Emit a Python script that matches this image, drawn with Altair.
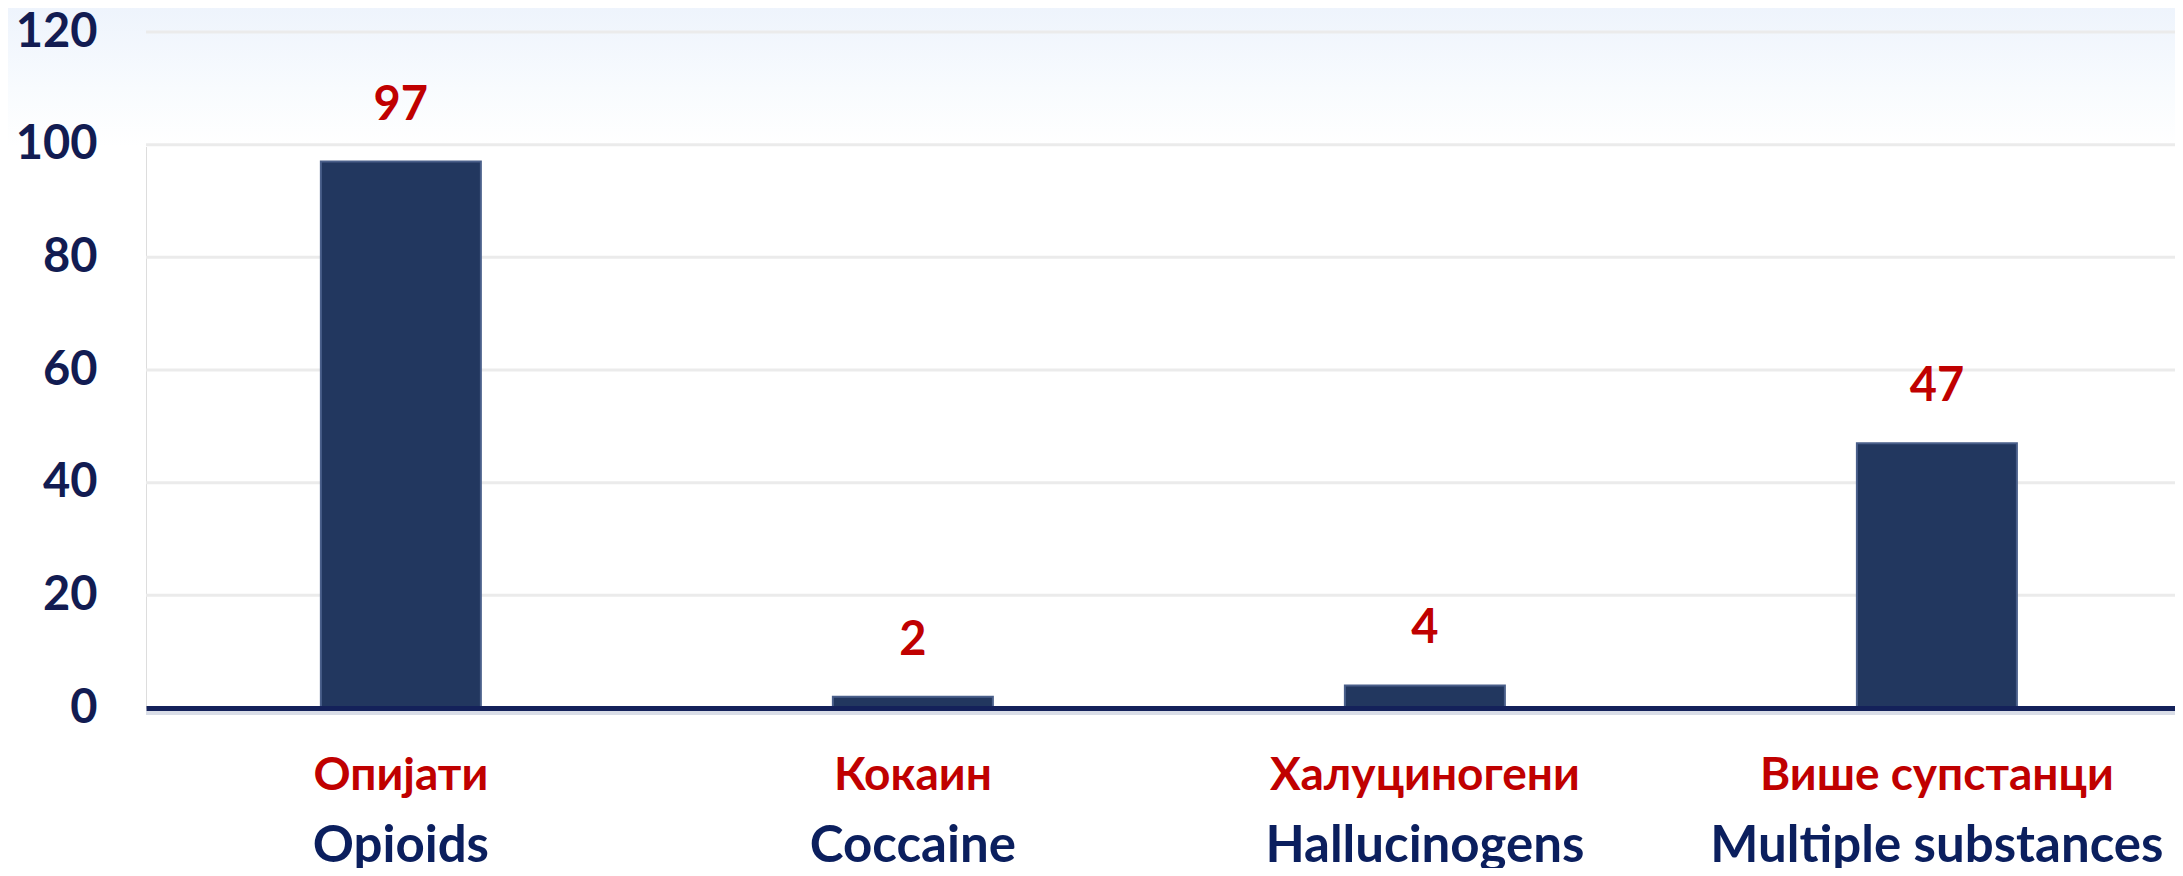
import altair as alt
import pandas as pd

# ---- data ----
cats_en = ["Opioids", "Coccaine", "Hallucinogens", "Multiple substances"]
cats_cyr = ["Опијати", "Кокаин", "Халуциногени", "Више супстанци"]
values = [97, 2, 4, 47]
y_ticks = [0, 20, 40, 60, 80, 100, 120]

df = pd.DataFrame({"cat": cats_en, "cyr": cats_cyr, "value": values})
grid_df = pd.DataFrame({"v": y_ticks[1:]})

W = 2029
H = 676
FONT = "Lato, Noto Sans, sans-serif"
NAVY_TXT = "#121C52"
RED = "#C00000"

x_scale = alt.Scale(type="point", padding=0.4814, align=0.517)
y_scale = alt.Scale(domain=[0, 120], nice=False)

y_axis = alt.Axis(values=y_ticks, grid=False, domain=False, ticks=False, tickSize=0,
                  labelPadding=49, labelFont=FONT, labelFontWeight="bold",
                  labelFontSize=47, labelColor=NAVY_TXT, title=None, zindex=1,
                  labelOverlap=False, labelBound=False, labelFlush=False)

x_enc = alt.X(
    "cat:N",
    sort=cats_en,
    scale=x_scale,
    axis=alt.Axis(labels=False, ticks=False, title=None, domain=True,
                  domainColor="#14215A", domainWidth=5, zindex=1, grid=False),
)

bg = alt.Chart(pd.DataFrame({"a": [0]})).mark_rect(
    fill=alt.Gradient(
        gradient="linear",
        stops=[alt.GradientStop(color="#EDF3FC", offset=0),
               alt.GradientStop(color="#F8FBFE", offset=0.6),
               alt.GradientStop(color="#FFFFFF", offset=1)],
        x1=0, x2=0, y1=0, y2=1,
    )
).encode(x=alt.value(-146), x2=alt.value(W), y=alt.value(-32), y2=alt.value(115))

grid = alt.Chart(grid_df).mark_rule(color="#EBEBEB", strokeWidth=3).encode(
    y=alt.Y("v:Q", scale=y_scale, axis=y_axis),
    x=alt.value(0),
    x2=alt.value(W),
)

shadow = alt.Chart(pd.DataFrame({"a": [0]})).mark_rule(color="#D9DDE7", strokeWidth=4).encode(
    y=alt.value(H + 5), x=alt.value(0), x2=alt.value(W)
)

bars = alt.Chart(df).mark_bar(size=160, color="#22375F", stroke="#4A5F8A", strokeWidth=2).encode(
    x=x_enc,
    y=alt.Y("value:Q", scale=y_scale, axis=y_axis),
)

vals = alt.Chart(df).mark_text(
    dy=-56, baseline="middle", fontSize=47, fontWeight="bold", color=RED, font=FONT
).encode(x=alt.X("cat:N", sort=cats_en, scale=x_scale),
         y=alt.Y("value:Q", scale=y_scale, axis=y_axis), text="value:Q")

cyr = alt.Chart(df).mark_text(
    baseline="middle", fontSize=46, fontWeight="bold", color=RED, font=FONT
).encode(x=alt.X("cat:N", sort=cats_en, scale=x_scale), y=alt.value(744), text="cyr:N")

en = alt.Chart(df).mark_text(
    baseline="middle", fontSize=51, fontWeight="bold", color="#0B1F5E", font=FONT
).encode(x=alt.X("cat:N", sort=cats_en, scale=x_scale), y=alt.value(815), text="cat:N")

chart = alt.layer(bg, grid, shadow, bars, vals, cyr, en).properties(
    width=W, height=H,
    autosize=alt.AutoSizeParams(type="none"),
    padding={"left": 138, "top": 24, "right": 0, "bottom": 160},
).configure_view(stroke=None).configure(background="white")

chart.save("out.html", embed_options={"renderer": "svg", "actions": False})
